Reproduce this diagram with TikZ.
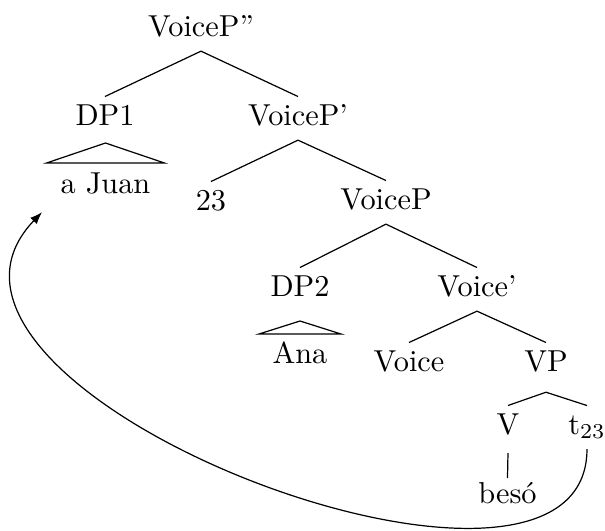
\documentclass[tikz,border=0pt]{standalone}
\usepackage{fontspec}
\usetikzlibrary{arrows.meta}
\begin{document}
\begin{tikzpicture}[x=0.33pt,y=-0.33pt,
  lab/.style={anchor=base,inner sep=2pt,text height=7.2pt,text depth=2.8pt},
  branch/.style={draw,line width=0.4pt},
  roof/.style={draw,line width=0.4pt},
  move/.style={draw,line width=0.4pt,-{Latex[length=4pt,width=3pt]}}]
\useasboundingbox (0,0) rectangle (605,531);
% nodes
\node[lab] (root) at (201,36) {VoiceP”};
\node[lab] (dp1) at (105,125) {DP1};
\node[lab] (vpbar) at (298,125) {VoiceP’};
\node[lab] (juan) at (105.5,193) {a Juan};
\node[lab] (n23) at (211,210) {23};
\node[lab] (voicep) at (386,209) {VoiceP};
\node[lab] (dp2) at (300,296) {DP2};
\node[lab] (vbar) at (477,296) {Voice’};
\node[lab] (ana) at (300,363) {Ana};
\node[lab] (voice) at (409,371) {Voice};
\node[lab,text depth=4.8pt] (vp) at (546,371) {VP};
\node[lab] (v) at (508,434) {V};
\node[lab] (t) at (587,434) {t$_{23}$};
\node[lab] (beso) at (507.5,503) {besó};
% branches
\draw[branch] (root.south) -- (dp1.north);
\draw[branch] (root.south) -- (vpbar.north);
\draw[branch] (vpbar.south) -- (n23.north);
\draw[branch] (vpbar.south) -- (voicep.north);
\draw[branch] (voicep.south) -- (dp2.north);
\draw[branch] (voicep.south) -- (vbar.north);
\draw[branch] (vbar.south) -- (voice.north);
\draw[branch] (vbar.south) -- (vp.north);
\draw[branch] (vp.south) -- (v.north);
\draw[branch] (vp.south) -- (t.north);
\draw[branch] ([shift={(0,19)}]v.base) -- ([shift={(0,-25)}]beso.base);
% roofs
\draw[roof] ([shift={(-59,-30)}]juan.base) -- ([shift={(0,-50)}]juan.base) -- ([shift={(59,-30)}]juan.base) -- cycle;
\draw[roof] ([shift={(-41,-29)}]ana.base) -- ([shift={(0,-42)}]ana.base) -- ([shift={(41,-29)}]ana.base) -- cycle;
% movement arrow
\coordinate (tgt) at ([shift={(-12,4)}]juan.south west);
\draw[move] (t.south) .. controls +(0,215) and +(-173,180) .. (tgt);
\end{tikzpicture}
\end{document}
